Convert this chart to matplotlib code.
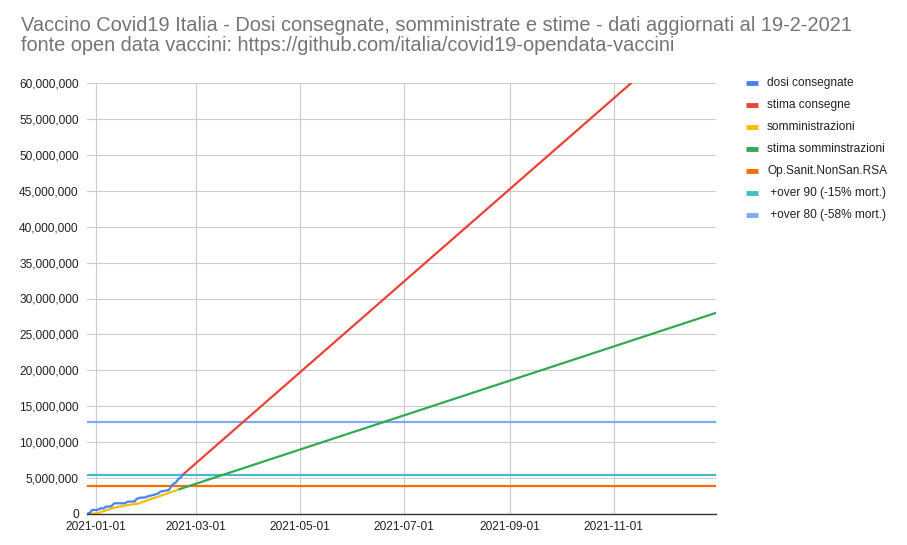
import matplotlib
matplotlib.use("Agg")
import matplotlib.pyplot as plt
import pandas as pd
from matplotlib.lines import Line2D
from matplotlib.ticker import FuncFormatter, MultipleLocator

plt.rcParams['font.family'] = ['Liberation Sans', 'DejaVu Sans']

# ---- data ----
dosi_dates = ["2020-12-27", "2020-12-29", "2020-12-30", "2021-01-02", "2021-01-04",
              "2021-01-06", "2021-01-07", "2021-01-10", "2021-01-11", "2021-01-12",
              "2021-01-18", "2021-01-20", "2021-01-24", "2021-01-25", "2021-01-27",
              "2021-01-30", "2021-01-31", "2021-02-04", "2021-02-07", "2021-02-08",
              "2021-02-13", "2021-02-15", "2021-02-16", "2021-02-17", "2021-02-19",
              "2021-02-20", "2021-02-21"]
dosi_values = [0.01e6, 0.24e6, 0.56e6, 0.56e6, 0.79e6,
               0.79e6, 1.02e6, 1.05e6, 1.25e6, 1.49e6,
               1.49e6, 1.71e6, 1.75e6, 2.09e6, 2.27e6,
               2.30e6, 2.41e6, 2.65e6, 2.88e6, 3.10e6,
               3.34e6, 4.04e6, 4.27e6, 4.36e6, 4.97e6,
               5.05e6, 5.43e6]

somm_dates = ["2020-12-27", "2020-12-29", "2021-01-02", "2021-01-06", "2021-01-12",
              "2021-01-20", "2021-01-26", "2021-01-29", "2021-02-02", "2021-02-09",
              "2021-02-15", "2021-02-18"]
somm_values = [0.0, 0.02e6, 0.10e6, 0.42e6, 0.88e6,
               1.25e6, 1.45e6, 1.71e6, 2.05e6, 2.60e6,
               3.10e6, 3.34e6]

stima_cons_dates = ["2021-02-21", "2021-12-31"]
stima_cons_values = [5.43e6, 70.3e6]

stima_somm_dates = ["2021-02-19", "2021-12-31"]
stima_somm_values = [3.44e6, 28.0e6]

ref_dates = ["2020-12-27", "2021-12-31"]
op_sanit = 3.9e6
over90 = 5.47e6
over80 = 12.75e6

labels = ["dosi consegnate", "stima consegne", "somministrazioni", "stima somminstrazioni",
          "Op.Sanit.NonSan.RSA", " +over 90 (-15% mort.)", " +over 80 (-58% mort.)"]
colors = ["#4285F4", "#EA4335", "#FBBC04", "#34A853", "#FF6D01", "#46BDC6", "#7BAAF7"]

x_ticks = ["2021-01-01", "2021-03-01", "2021-05-01", "2021-07-01", "2021-09-01", "2021-11-01"]

title1 = "Vaccino Covid19 Italia - Dosi consegnate, somministrate e stime - dati aggiornati al 19-2-2021"
title2 = "fonte open data vaccini: https://github.com/italia/covid19-opendata-vaccini"

# ---- figure ----
W, H = 907, 545
fig = plt.figure(figsize=(W / 100, H / 100), dpi=100)
ax = fig.add_axes([87 / W, 1 - 514 / H, (716 - 87) / W, (514 - 83) / H])

lw = 1.6
D = lambda l: pd.to_datetime(l)
ax.plot(D(ref_dates), [over80] * 2, color=colors[6], lw=lw, zorder=3)
ax.plot(D(ref_dates), [over90] * 2, color=colors[5], lw=lw, zorder=3)
ax.plot(D(ref_dates), [op_sanit] * 2, color=colors[4], lw=lw, zorder=3)
ax.plot(D(stima_somm_dates), stima_somm_values, color=colors[3], lw=lw, zorder=4)
ax.plot(D(somm_dates), somm_values, color=colors[2], lw=lw, zorder=5)
ax.plot(D(stima_cons_dates), stima_cons_values, color=colors[1], lw=lw, zorder=4)
ax.plot(D(dosi_dates), dosi_values, color=colors[0], lw=lw, zorder=6)

ax.set_xlim(D("2020-12-27"), D("2021-12-31"))
ax.set_ylim(0, 60e6)
ax.yaxis.set_major_locator(MultipleLocator(5e6))
ax.yaxis.set_major_formatter(FuncFormatter(lambda v, p: f"{int(v):,}"))
ax.set_xticks(D(x_ticks))
ax.set_xticklabels(x_ticks)

ax.grid(True, color="#cccccc", lw=0.8)
ax.set_axisbelow(True)
for s in ["top", "right", "left"]:
    ax.spines[s].set_visible(False)
ax.spines["bottom"].set_color("#333333")
ax.spines["bottom"].set_linewidth(1.0)
ax.spines["bottom"].set_zorder(7)
ax.tick_params(axis="both", length=0, labelsize=8.6, colors="#222222")
ax.tick_params(axis="y", pad=6)
ax.tick_params(axis="x", pad=5)

# title
fig.text(21 / W, 1 - 31 / H, title1, fontsize=14.4, color="#757575", va="baseline", ha="left")
fig.text(21 / W, 1 - 51 / H, title2, fontsize=14.4, color="#757575", va="baseline", ha="left")

# legend (manual)
for i, (lab, c) in enumerate(zip(labels, colors)):
    yy = 1 - (83 + 22 * i) / H
    fig.add_artist(Line2D([746 / W, 758 / W], [yy, yy], color=c, lw=3.5,
                          solid_capstyle="butt", transform=fig.transFigure))
    fig.text(767 / W, yy, lab, fontsize=8.6, color="#222222", va="center", ha="left")

fig.savefig("out.png", dpi=100)
